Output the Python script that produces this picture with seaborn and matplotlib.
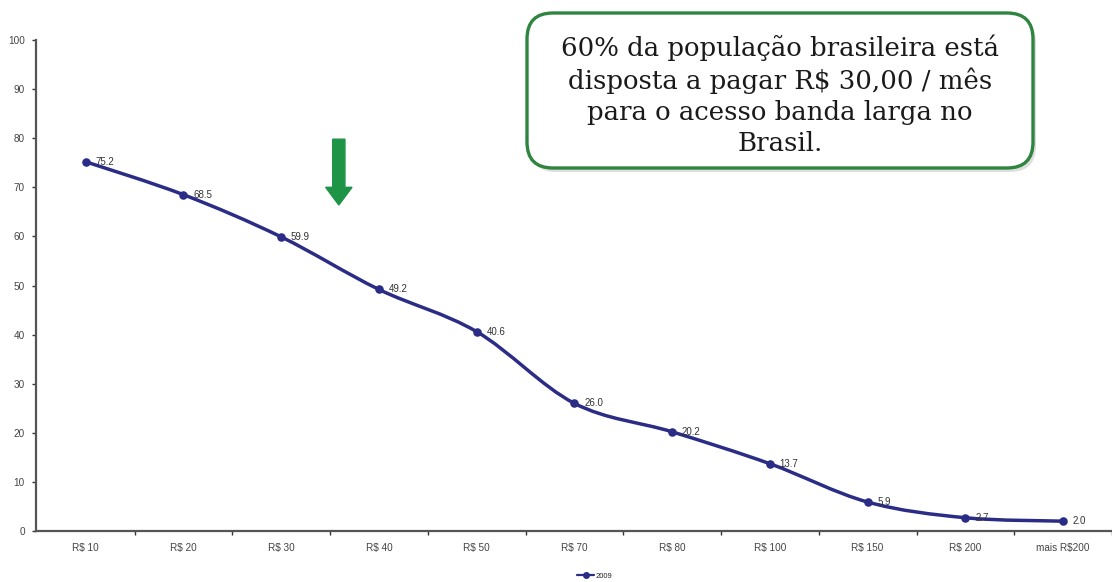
import numpy as np
import pandas as pd
import seaborn as sns
import matplotlib
matplotlib.use("Agg")
import matplotlib.pyplot as plt
from matplotlib.path import Path
from matplotlib.patches import PathPatch, FancyBboxPatch, FancyArrow
from matplotlib.lines import Line2D

# Willingness to pay for broadband, share of population (%)
categories = ["R$ 10", "R$ 20", "R$ 30", "R$ 40", "R$ 50", "R$ 70",
              "R$ 80", "R$ 100", "R$ 150", "R$ 200", "mais R$200"]
values_2009 = [75.2, 68.5, 59.9, 49.2, 40.6, 26.0, 20.2, 13.7, 5.9, 2.7, 2.0]
series_name = "2009"
y_ticks = [0, 10, 20, 30, 40, 50, 60, 70, 80, 90, 100]
callout = ("60% da população brasileira está\n"
           "disposta a pagar R$ 30,00 / mês\n"
           "para o acesso banda larga no\n"
           "Brasil.")

df = pd.DataFrame({"pos": np.arange(len(categories)), "cat": categories,
                   "val": values_2009})

sns.set_theme(style="white")
plt.rcParams["font.family"] = ["Liberation Sans", "DejaVu Sans"]

W, H = 1112, 582
fig = plt.figure(figsize=(W / 100, H / 100), dpi=100)
ax = fig.add_axes([36 / W, 51 / H, 1 - 36 / W, 491 / H])

line_color = "#2B2C86"

# smoothed curve through the points (cubic Bezier segments)
pts = df[["pos", "val"]].to_numpy(dtype=float)
n = len(pts)
verts = [tuple(pts[0])]
codes = [Path.MOVETO]
for i in range(n - 1):
    p0 = pts[max(i - 1, 0)]
    p1 = pts[i]
    p2 = pts[i + 1]
    p3 = pts[min(i + 2, n - 1)]
    c1 = p1 + (p2 - p0) / 6.0
    c2 = p2 - (p3 - p1) / 6.0
    verts += [tuple(c1), tuple(c2), tuple(p2)]
    codes += [Path.CURVE4, Path.CURVE4, Path.CURVE4]
ax.add_patch(PathPatch(Path(verts, codes), facecolor="none",
                       edgecolor=line_color, lw=2.5, zorder=3,
                       capstyle="round", joinstyle="round"))

sns.scatterplot(data=df, x="pos", y="val", ax=ax, color=line_color,
                s=38, edgecolor=line_color, linewidth=0, zorder=4,
                legend=False)

for x, v in zip(df["pos"], df["val"]):
    ax.annotate(f"{v:.1f}", (x, v), xytext=(7, 0), textcoords="offset points",
                ha="left", va="center", fontsize=7, color="#333333", zorder=5)

ax.set_xlim(-0.508, (W - 86) / 98.4)
ax.set_ylim(0, 100)
ax.set_yticks(y_ticks)
ax.set_yticklabels([str(t) for t in y_ticks])
ax.set_xticks(df["pos"])
ax.set_xticklabels(categories)
ax.set_xticks(np.arange(len(categories)) + 0.5, minor=True)
ax.tick_params(axis="x", which="major", length=0, pad=9, labelsize=7.2,
               labelcolor="#444444")
ax.tick_params(axis="x", which="minor", length=3, width=1, color="#333333",
               direction="out", bottom=True)
ax.tick_params(axis="y", length=3, width=1, color="#333333", left=True,
               labelsize=7.2, labelcolor="#444444", pad=5)
ax.set_xlabel("")
ax.set_ylabel("")
for s in ["top", "right"]:
    ax.spines[s].set_visible(False)
for s in ["left", "bottom"]:
    ax.spines[s].set_color("#555555")
    ax.spines[s].set_linewidth(1.6)

# green arrow pointing to the R$ 30 level
ax.add_patch(FancyArrow(2.59, 79.8, 0, -13.4, width=0.125, head_width=0.27,
                        head_length=3.6, length_includes_head=True,
                        color="#1E9447", zorder=5))

# callout box
bx0, by0, bx1, by1 = 527, 13, 1033, 168
shadow = FancyBboxPatch((bx0 + 3, H - by1 - 4), bx1 - bx0, by1 - by0,
                        boxstyle="round,pad=0,rounding_size=26",
                        transform=None, facecolor="#c9c9c9", edgecolor="none",
                        alpha=0.6, zorder=9)
box = FancyBboxPatch((bx0, H - by1), bx1 - bx0, by1 - by0,
                     boxstyle="round,pad=0,rounding_size=26",
                     transform=None, facecolor="white", edgecolor="#2E8540",
                     lw=2.4, zorder=10)
fig.patches.extend([shadow, box])
fig.text((bx0 + bx1) / 2 / W, 1 - 95 / H, callout,
         ha="center", va="center", fontsize=18.7, family="DejaVu Serif",
         color="#1a1a1a", linespacing=1.3, zorder=11)

# legend
handle = Line2D([], [], color=line_color, lw=1.6, marker="o", markersize=4)
fig.legend([handle], [series_name], loc="center",
           bbox_to_anchor=(595 / W, 6 / H), frameon=False, fontsize=5.5,
           handlelength=2.2, handletextpad=0.2, borderpad=0)

fig.savefig("out.png", dpi=100)
